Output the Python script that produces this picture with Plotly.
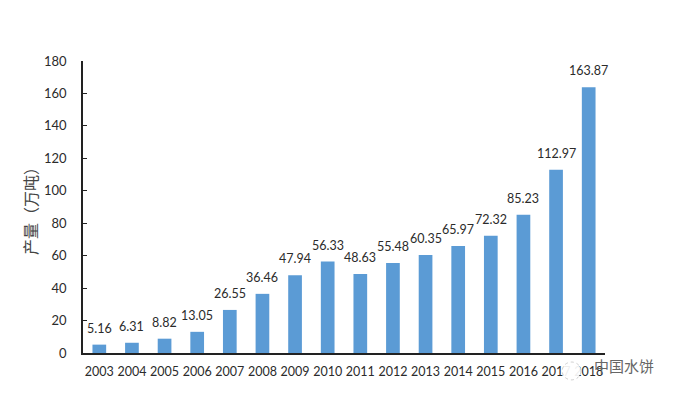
import plotly.graph_objects as go

years = list(range(2003, 2019))
values = [5.16, 6.31, 8.82, 13.05, 26.55, 36.46, 47.94, 56.33, 48.63, 55.48, 60.35, 65.97, 72.32, 85.23, 112.97, 163.87]
y_ticks = list(range(0, 181, 20))
y_title = "产量（万吨）"
watermark = "中国水饼"
FONT = "Lato, 'Noto Sans CJK SC'"
TXT = "#2b2b2b"

fig = go.Figure(go.Bar(x=years, y=values, marker=dict(color="#5B9BD5", line_width=0), width=0.42, hoverinfo="skip"))

for yr, v in zip(years, values):
    fig.add_annotation(x=yr, y=v, text=f"{v:.2f}", showarrow=False, yanchor="bottom", yshift=7,
                       font=dict(family=FONT, size=12.5, color=TXT))

# watermark badge blotting part of the last tick labels
fig.add_shape(type="circle", xref="paper", yref="paper", x0=0.918, x1=0.954, y0=-0.092, y1=-0.031,
              fillcolor="rgba(255,255,255,0.92)", line=dict(color="#cccccc", width=1, dash="dot"), layer="above")
fig.add_annotation(xref="paper", yref="paper", x=0.975, y=-0.045, text=watermark, showarrow=False,
                   xanchor="left", yanchor="middle", font=dict(family=FONT, size=15, color="#666666"))

fig.update_layout(
    width=677, height=378, margin=dict(l=75, r=80, t=53, b=33, autoexpand=False),
    paper_bgcolor="white", plot_bgcolor="white", showlegend=False,
    font=dict(family=FONT, size=12.5, color=TXT),
    xaxis=dict(showgrid=False, showline=True, linecolor="#222222", linewidth=1.5, zeroline=False,
               ticks="", tickvals=years, ticktext=[str(y) for y in years], ticklabelstandoff=6,
               tickfont=dict(family=FONT, size=12.5, color=TXT), tickangle=0,
               range=[2002.5, 2018.5]),
    yaxis=dict(range=[0, 180], tickvals=y_ticks, showgrid=False, zeroline=False, showline=True,
               linecolor="#222222", linewidth=1.5, ticks="inside", ticklen=4, tickcolor="#222222",
               ticklabelstandoff=12,
               tickfont=dict(family=FONT, size=13, color=TXT),
               title=dict(text=y_title, standoff=2, font=dict(family=FONT, size=16, color="#444444"))),
)
fig.write_html("out.html")
